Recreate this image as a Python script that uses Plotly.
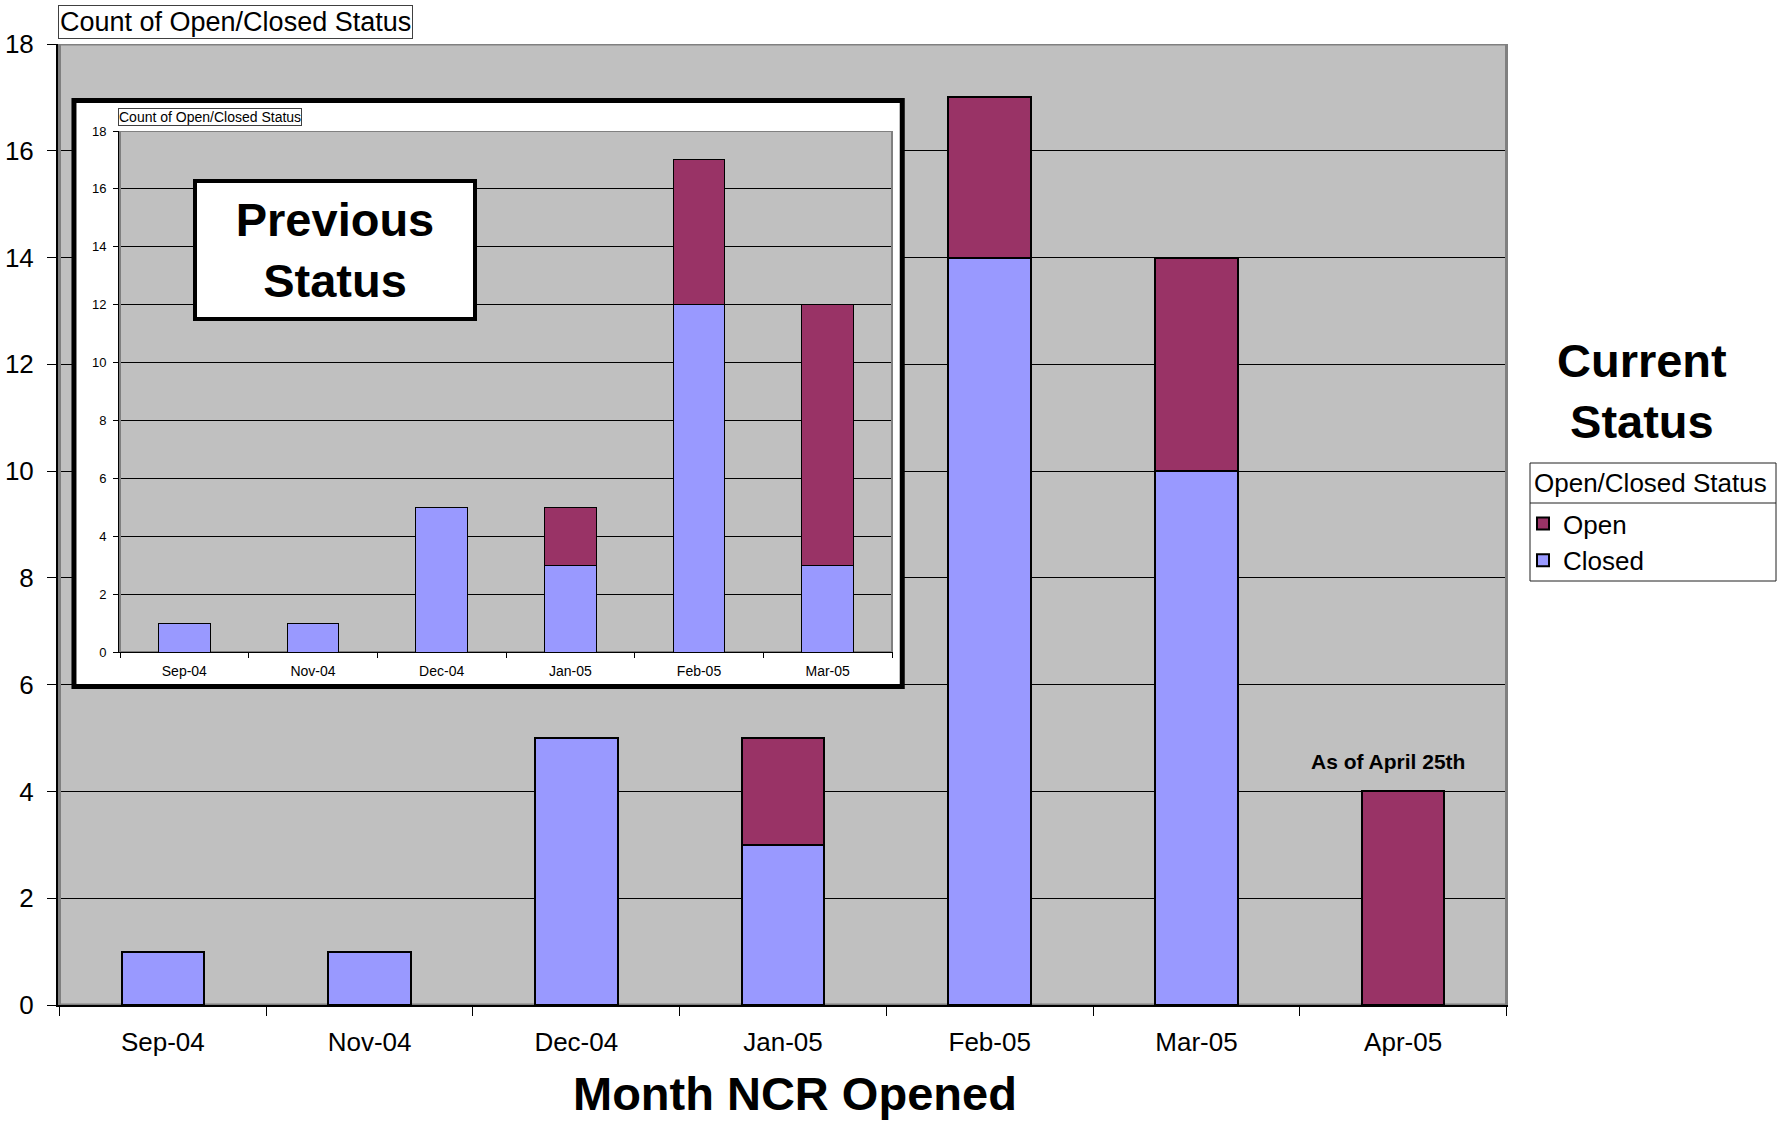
import plotly.graph_objects as go

# ---------------- data ----------------
months_current = ['Sep-04', 'Nov-04', 'Dec-04', 'Jan-05', 'Feb-05', 'Mar-05', 'Apr-05']
closed_current = [1, 1, 5, 3, 14, 10, None]
open_current = [None, None, None, 2, 3, 4, 4]

months_previous = ['Sep-04', 'Nov-04', 'Dec-04', 'Jan-05', 'Feb-05', 'Mar-05']
closed_previous = [1, 1, 5, 3, 12, 3]
open_previous = [None, None, None, 2, 5, 9]

y_tick_values = [0, 2, 4, 6, 8, 10, 12, 14, 16, 18]

# ---------------- styling ----------------
CLOSED = '#9999FF'
OPEN = '#993366'
BG = '#C0C0C0'
FONT = 'Liberation Sans, Arial, sans-serif'

W, H = 1781, 1124
L, R, T, B = 58, 1508, 44, 1005
PW, PH = R - L, B - T
Y_MAX = 18


def px(x):
    return (x - L) / PW


def py(y):
    return (B - y) / PH


def dx(x):  # pixel -> main category-axis coordinate
    return -0.5 + len(months_current) * (x - L) / PW


def dy(y):  # pixel -> main value-axis coordinate
    return Y_MAX * (B - y) / PH


fig = go.Figure()

fig.add_trace(go.Bar(x=months_current, y=closed_current, name='Closed',
                     marker=dict(color=CLOSED, line=dict(color='black', width=2)),
                     xaxis='x', yaxis='y'))
fig.add_trace(go.Bar(x=months_current, y=open_current, name='Open',
                     marker=dict(color=OPEN, line=dict(color='black', width=2)),
                     xaxis='x', yaxis='y'))
fig.add_trace(go.Bar(x=months_previous, y=closed_previous, name='Closed', showlegend=False,
                     marker=dict(color=CLOSED, line=dict(color='black', width=1)),
                     xaxis='x2', yaxis='y2'))
fig.add_trace(go.Bar(x=months_previous, y=open_previous, name='Open', showlegend=False,
                     marker=dict(color=OPEN, line=dict(color='black', width=1)),
                     xaxis='x2', yaxis='y2'))

fig.update_layout(
    width=W, height=H,
    margin=dict(l=L, r=W - R, t=T, b=H - B, pad=0, autoexpand=False),
    paper_bgcolor='white', plot_bgcolor=BG,
    barmode='stack', bargap=0.6,
    font=dict(family=FONT, color='black'),
    hovermode=False,
    xaxis=dict(domain=[0, 1], anchor='y', type='category', automargin=False,
               showline=True, linecolor='black', linewidth=2,
               ticks='outside', tickson='boundaries', ticklen=9, tickcolor='black', tickwidth=1,
               tickfont=dict(size=26, family=FONT, color='black'), ticklabelstandoff=13,
               showgrid=False, zeroline=False),
    yaxis=dict(domain=[0, 1], anchor='x', range=[0, Y_MAX], tickvals=y_tick_values, automargin=False,
               showline=True, linecolor='black', linewidth=2,
               ticks='outside', ticklen=9, tickcolor='black', tickwidth=1,
               tickfont=dict(size=26, family=FONT, color='black'), ticklabelstandoff=8,
               showgrid=True, gridcolor='black', gridwidth=1, zeroline=False),
    xaxis2=dict(domain=[px(119), px(893)], anchor='y2', type='category', automargin=False,
                showline=True, linecolor='black', linewidth=1,
                ticks='outside', tickson='boundaries', ticklen=5, tickcolor='black', tickwidth=1,
                tickfont=dict(size=14, family=FONT, color='black'), ticklabelstandoff=6,
                showgrid=False, zeroline=False),
    yaxis2=dict(domain=[py(652), py(131)], anchor='x2', range=[0, Y_MAX], tickvals=y_tick_values,
                automargin=False,
                showline=True, linecolor='black', linewidth=1,
                ticks='outside', ticklen=5, tickcolor='black', tickwidth=1,
                tickfont=dict(size=13, family=FONT, color='black'), ticklabelstandoff=4,
                showgrid=True, gridcolor='black', gridwidth=1, zeroline=False),
    legend=dict(x=px(1523), y=py(500), xanchor='left', yanchor='top',
                bgcolor='rgba(0,0,0,0)', borderwidth=0,
                font=dict(size=26, family=FONT, color='black'),
                traceorder='reversed'),
)

n_prev = len(months_previous)
shapes = [
    # legend box and title separator
    dict(type='rect', xref='paper', yref='paper',
         x0=px(1530), x1=px(1776), y0=py(581), y1=py(463),
         fillcolor='white', line=dict(color='#202020', width=1), layer='below'),
    dict(type='line', xref='paper', yref='paper',
         x0=px(1530), x1=px(1776), y0=py(503), y1=py(503),
         line=dict(color='#202020', width=1)),
    # white inset frame over main grid
    dict(type='rect', xref='x', yref='y',
         x0=dx(72.5), x1=dx(902.5), y0=dy(686.5), y1=dy(100.5),
         fillcolor='white', line=dict(color='black', width=5), layer='between'),
    # inset plot background
    dict(type='rect', xref='x2', yref='y2', x0=-0.5, x1=n_prev - 0.5, y0=0, y1=Y_MAX,
         fillcolor=BG, line=dict(width=0), layer='below'),
    # grey plot frames
    dict(type='rect', xref='x', yref='y', x0=-0.5, x1=len(months_current) - 0.5, y0=0, y1=Y_MAX,
         line=dict(color='#808080', width=3), layer='between'),
    dict(type='rect', xref='x2', yref='y2', x0=-0.5, x1=n_prev - 0.5, y0=0, y1=Y_MAX,
         line=dict(color='#808080', width=2), layer='between'),
]
fig.update_layout(shapes=shapes)

annotations = [
    dict(text='Count of Open/Closed Status', xref='paper', yref='paper',
         x=0, y=py(39), xanchor='left', yanchor='bottom', showarrow=False,
         font=dict(size=27, family=FONT, color='black'),
         bgcolor='white', bordercolor='#404040', borderwidth=1, borderpad=1),
    dict(text='Count of Open/Closed Status', xref='paper', yref='paper',
         x=px(118), y=py(126), xanchor='left', yanchor='bottom', showarrow=False,
         font=dict(size=14, family=FONT, color='black'),
         bgcolor='white', bordercolor='#404040', borderwidth=1, borderpad=0),
    dict(text='<b>Previous<br>Status</b>', xref='paper', yref='paper',
         x=px(335), y=py(250), xanchor='center', yanchor='middle', showarrow=False,
         font=dict(size=47, family=FONT, color='black'),
         width=276, height=134, align='center',
         bgcolor='white', bordercolor='black', borderwidth=4, borderpad=0),
    dict(text='<b>Current<br>Status</b>', xref='paper', yref='paper',
         x=px(1642), y=py(391), xanchor='center', yanchor='middle', showarrow=False,
         font=dict(size=47, family=FONT, color='black'), align='center'),
    dict(text='Open/Closed Status', xref='paper', yref='paper',
         x=px(1532), y=py(483), xanchor='left', yanchor='middle', showarrow=False,
         font=dict(size=26, family=FONT, color='black')),
    dict(text='<b>As of April 25th</b>', xref='x', yref='y',
         x='Apr-05', y=4, xanchor='center', yanchor='middle', showarrow=False,
         xshift=-15, yshift=30,
         font=dict(size=21, family=FONT, color='black')),
    dict(text='<b>Month NCR Opened</b>', xref='paper', yref='paper',
         x=px(795), y=py(1093), xanchor='center', yanchor='middle', showarrow=False,
         font=dict(size=47, family=FONT, color='black')),
]
fig.update_layout(annotations=annotations)

fig.write_html('out.html', config={'displayModeBar': False},
               post_script="document.body.style.margin='0';document.body.style.padding='0';")
